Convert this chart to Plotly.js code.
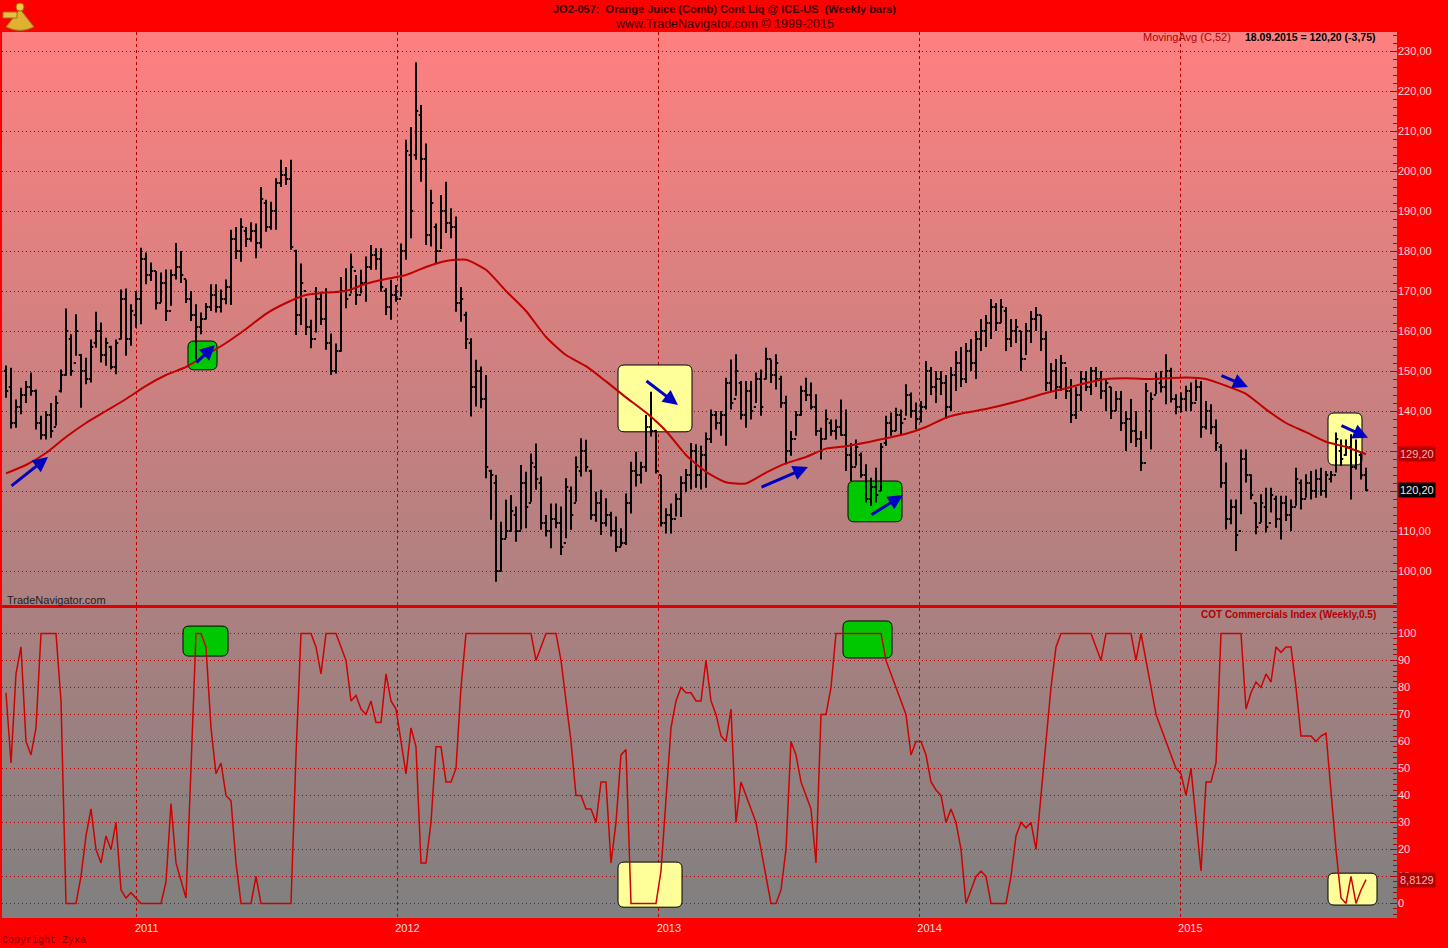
<!DOCTYPE html>
<html>
<head>
<meta charset="utf-8">
<script src="https://cdn.plot.ly/plotly-3.0.1.min.js"></script>
<style>
html,body{margin:0;padding:0;background:#ff0000;}
#chart{width:1448px;height:948px;}
</style>
</head>
<body>
<div id="chart"></div>
<script>
// ---------------- DATA (weekly bars, first bar week of 2010-07-02, last 2015-09-18) ----------------
const firstWeek = '2010-07-02';
const yearLabels = ['2011','2012','2013','2014','2015'];

const high = [
151.4,150.8,142.9,145.8,147.5,149.6,145.4,138.8,140,142,
143.8,150.4,165.6,159.2,164.2,154.2,153.3,157.9,164.8,162.1,
158.3,156.3,157.9,170.4,170.6,166.7,170,180.8,179.6,177.1,
175,174.6,175.4,175.4,182,180,172.9,170,166.7,164.6,
167,171.7,171.7,170.4,172.9,185.3,186,188.2,186,187.2,
186.9,196,192.8,192.3,198.2,202.8,201,202.8,180.3,176.9,
168.2,162.8,171,169.8,170.7,159.4,156.9,173.5,175.7,179.4,
174,175.3,178.6,181.5,180.7,180.7,170.7,172.8,171.5,181.9,
207.8,211,227.2,216.5,206.9,195.3,186.9,194,197.3,190.7,
188.6,171,164.8,158.2,152.8,151.1,149,125.3,124,112.3,
117.8,119,116.1,126.5,124.8,129.4,131.9,123.6,114,116.9,
116.9,116.1,123.2,121.1,128.6,133.2,132.8,125.3,119.8,120.3,
118.2,114.8,113.6,110.7,119.4,127.3,129.8,127.3,139,144.8,
135.3,124,115.7,116.9,119.4,123.7,125.5,132,131.7,131.3,
134.6,140.4,140,140,148.3,152.9,154.2,147.5,147.5,147.5,
149.6,150.4,155.8,152.9,154.2,148.8,143.8,135,140,146.3,
148.3,147.1,144.2,135.8,140.4,137.9,137.9,142.9,140.4,132,
132.9,129.6,126.7,123.3,125.8,132,138.8,139.6,140.8,140.4,
146.7,144.6,142.1,142.5,152.5,151,150,150,149,151,
155,156,157,158,160,163,164,168,167,168,
166,163,163,160,162,165,166,164,160,152,
153,154,151,148,146,150,150,151,151,150,
148,146,145,145,140,143,140,135,147,144.6,
149.6,150,154.2,150.8,144.2,144.6,146.3,147.1,147.9,147.5,
142.5,141.7,137.9,131.7,127.1,117.9,117.9,130.4,130.4,124.2,
117.1,119.2,120.8,120.8,118.8,118.8,118.8,117.9,125.8,122.9,
124.2,125,125.4,125.8,125,125,134.6,132.9,132.9,134.2,
132.9,129.6,125.8];

const low = [
143.3,135.6,135.8,139.2,142,143.8,135.4,132.9,132.9,133.3,
136.3,144.6,148.8,148.8,153.8,140.8,146.7,147.1,155.8,152.1,
151.3,150.4,149.2,157.9,153.8,156.3,160.8,161.7,171.7,172.5,
165.4,167.1,162.5,166.3,172.9,172,167,162.5,152.9,159.2,
162.9,165,164.6,164.6,166.7,166.5,178,177.3,181,182.3,
178.2,180.7,184.8,185.3,185.3,196,196.5,180.3,159,161.5,
159,155.7,159.6,161.5,155.3,149,149.4,154.8,165.7,169.4,
166.5,169.4,167.3,175.3,175.3,169.8,164,162.8,167.3,168.6,
177.8,183.2,202.8,197.3,181.5,181.1,176.9,180.5,184.5,183.2,
164.8,162.3,155.5,138.6,141.1,140.7,123.2,112.8,97.3,99.8,
108.2,109.8,107.3,110.3,110.7,117.3,120.3,110.3,108.6,105.7,
110.7,104,108.2,110.3,117.3,123.6,124.8,112.8,112.3,109,
111.1,108.6,104.8,106.1,106.5,114.4,121.1,121.9,124.8,133.6,
124.4,111.1,109.4,109.4,113.6,113.5,119.7,120.4,120.8,120.4,
120.8,132,135.4,133.8,131.3,140.4,143.8,137.9,135.8,137.9,
142,138.8,147.9,147,145.4,140.8,126.7,128.8,133.8,138.8,
142.5,140.4,133.8,127.9,132.9,133.8,132.9,133.8,125,122.5,
126.3,123.3,117.1,116.3,117.1,120,131.3,133.8,135,134.2,
138.8,138.3,135.4,137.1,140.4,144,142,144,138,140,
145,146,147,150,148,155,156,158,160,162,
155,156,157,150,154,157,160,155,145,145,
143,145,143,137,138,140,145,144,146,143,
140,138,140,135,130,132,131,125,133,130.4,
144.2,144.6,141.7,142.1,139.2,139.6,140,140,142.5,133.3,
135.4,134.2,130,120.8,110.4,111.7,105,114.2,122.1,117.9,
109.2,112.1,109.6,114.6,110.8,107.9,112.5,110,116.3,115.4,
118.3,117.9,118.3,118.8,118.3,122.1,124.6,126.3,128.8,117.9,
125.4,122.9,120];

const open = [
150,146,137,141,144,146,145,137,134,139,
136,145,149,158,152,154,150,148,157,160,
154,156,151,158,168,158,164,168,178,174,
175,167,172,165,174,176,173,168,164,161,
163,166,169,166,168,171,183,180,185,183,
185,182,192,186,190,197,199,198,180,164,
170,161,158,168,163,157,150,155,170,169,
175,169,172,176,179,178,170,166,169,168,
180,204,204,214,203,184,186,180,190,187,
186,167,164,157,146,150,143,125,122,100,
108,110,114,110,122,117,126,122,112,110,
113,112,107,120,117,125,130,125,114,117,
112,114,110,106,107,117,125,124,126,136,
135,124,112,114,113,118,122,124,130,124,
129,133,139,137,139,147,143,147,139,145,
141,148,148,153,149,148,142,130,133,139,
145,144,141,135,133,137,135,136,134,129,
126,129,124,118,121,120,132,137,135,139,
138,144,140,138,141,150,146,148,147,141,
149,152,148,155,152,158,160,162,166,162,
165,158,160,160,153,160,163,164,158,147,
150,146,152,145,139,144,148,146,150,148,
145,146,140,143,137,138,135,133,127,140,
144,147,146,150,143,141,143,145,142,146,
136,140,136,131,122,113,116,110,128,124,
117,112,116,112,118,113,117,114,116,122,
118,122,120,123,120,123,124,130,129,131,
126,129,124];

const close = [
145,137,141,144,146,145,137,134,139,135,
142,149,160,150,160,150,148,156,160,154,
157,151,157,168,158,165,168,178,174,175,
167,172,165,174,176,174,168,164,161,163,
166,169,166,168,171,183,180,186,183,185,
182,193,186,190,197,199,198,181,164,172,
161,158,168,163,157,150,155,170,168,176,
169,172,176,179,178,171,166,169,168,180,
205,190,215,203,184,192,180,190,187,186,
167,168,158,146,150,143,126,124,100,108,
110,115,110,122,116,127,123,112,110,113,
112,106,121,114,126,130,126,114,117,112,
114,110,106,107,117,125,124,126,136,135,
125,112,114,113,118,122,124,130,124,129,
133,139,137,139,147,142,150,139,145,140,
148,141,153,149,152,142,130,133,139,145,
144,141,135,133,138,135,136,134,129,126,
131,124,118,121,119,131,137,135,139,137,
144,140,138,141,150,146,148,147,141,149,
152,148,155,152,158,160,162,166,162,166,
158,160,161,153,160,163,164,158,147,150,
146,152,145,139,144,148,146,150,148,145,
147,140,143,137,138,135,133,127,145,143,
148,146,150,143,141,143,145,142,146,136,
140,136,132,122,113,116,109,128,124,119,
111,117,111,119,113,117,114,116,123,118,
122,120,123,120,124,124,133,128,131,126,
130,123.95,120.2];

// 52-week moving average of the close, read every 4th week
const maStep = 4;
const maVal = [
124.4,126.5,129.5,133.5,137,140,143,146.3,149,151,
154,157,160.5,164.3,167,169,169.6,170,171.8,173,
174,176,177.5,177.8,175.3,170,165,158.5,154,151.2,
147.4,143.4,139.6,135,129,124.8,122.2,121.9,124.6,126.9,
128.5,130.6,131.2,132.1,133.2,134.3,136,138.3,139.6,140.5,
141.7,143,144.5,145.7,147,148,148.2,148,148.2,148.4,
148,146.3,144.3,140.4,137,134.7,132.3,131,129.2];

// COT Commercials Index (Weekly, 0.5)
const cot = [
78,52,85,95,60,55,65,100,100,100,
100,75,0,0,0,10,25,35,20,15,
25,20,30,5,2,4,2,0,0,0,
0,0,8,37,15,8,2,50,100,100,
95,65,48,52,40,38,15,0,0,0,
10,0,0,0,0,0,0,0,55,100,
100,100,95,85,100,100,100,95,90,75,
77,72,70,75,67,67,85,75,72,60,
48,65,58,15,15,30,58,58,45,45,
50,80,100,100,100,100,100,100,100,100,
100,100,100,100,100,100,90,95,100,100,
100,90,75,60,40,40,35,35,30,45,
45,15,30,55,57,0,0,0,0,0,
0,12,40,65,75,80,78,78,75,75,
90,75,70,62,60,72,30,45,40,35,
30,20,10,0,0,5,20,60,55,45,
40,35,15,70,70,80,100,100,100,100,
100,100,100,100,100,100,90,85,80,75,
70,55,60,60,55,45,42,40,30,35,
30,20,0,5,10,12,10,0,0,0,
0,10,25,30,28,30,20,40,60,80,
95,100,100,100,100,100,100,100,95,90,
100,100,100,100,100,100,90,100,90,80,
70,65,60,55,50,48,40,50,30,12,
45,45,52,100,100,100,100,100,72,78,
82,80,85,82,95,93,95,95,80,62,
62,62,60,62,63,40,20,2,0,10,
0,5,8.8129];

// ---------------- highlight boxes / arrows (week index, value) ----------------
const boxes = [
 {w0:36.4,w1:42.2,v0:150.3,v1:157.5,ax:'y',fill:'#00c800'},
 {w0:122.4,w1:137.2,v0:134.8,v1:151.5,ax:'y',fill:'#ffff99'},
 {w0:168.4,w1:179.2,v0:112.3,v1:122.5,ax:'y',fill:'#00c800'},
 {w0:264.4,w1:271.2,v0:126.5,v1:139.5,ax:'y',fill:'#ffff99'},
 {w0:35.4,w1:44.4,v0:91.6,v1:102.7,ax:'y2',fill:'#00c800'},
 {w0:167.4,w1:177.2,v0:90.9,v1:104.6,ax:'y2',fill:'#00c800'},
 {w0:122.4,w1:135.2,v0:-1.4,v1:15.3,ax:'y2',fill:'#ffff99'},
 {w0:264.4,w1:274.2,v0:-0.6,v1:11.2,ax:'y2',fill:'#ffff99'}
];
const arrows = [
 {w0:0.8,v0:121,w1:8.4,v1:128.5},
 {w0:37.8,v0:151.8,w1:41.8,v1:156.5},
 {w0:127.8,v0:147.8,w1:134.4,v1:141.5},
 {w0:150.8,v0:120.8,w1:160.4,v1:126},
 {w0:172.8,v0:113.8,w1:179.4,v1:119},
 {w0:242.8,v0:149,w1:248.4,v1:146},
 {w0:266.8,v0:136.5,w1:272.4,v1:133.3}
];

// ---------------- build ----------------
const idx = high.map((_, i) => i);
const maIdx = maVal.map((_, k) => k * maStep);
const t0 = new Date(firstWeek + 'T00:00:00Z').getTime();
const WEEK = 7 * 24 * 3600 * 1000;
const yearPos = yearLabels.map(y => (new Date(y + '-01-01T00:00:00Z').getTime() - t0) / WEEK);

const FONT = 'Liberation Sans, Arial, sans-serif';
const DR = '#b80000';

// plot area in pixels: x 2..1397, y 32..918
const L = 2, T = 32, W = 1395, H = 886;
const px = x => (x - L) / W;
const py = y => (T + H - y) / H;

const traces = [
 {type:'ohlc', x:idx, open:open, high:high, low:low, close:close,
  xaxis:'x', yaxis:'y', tickwidth:0.45, hoverinfo:'skip',
  increasing:{line:{color:'#000000', width:2}},
  decreasing:{line:{color:'#000000', width:2}}},
 {type:'scatter', mode:'lines', x:maIdx, y:maVal, xaxis:'x', yaxis:'y',
  line:{color:'#c00000', width:2, shape:'spline', smoothing:0.6}, hoverinfo:'skip'},
 {type:'scatter', mode:'lines', x:idx, y:cot, xaxis:'x', yaxis:'y2',
  line:{color:'#d00000', width:1.5}, hoverinfo:'skip'}
];

function rbox(b){
  const yr = b.ax === 'y' ? 1.5 : 2.2;
  const xr = 1.2;
  const {w0,w1,v0,v1} = b;
  const p = `M${w0+xr},${v0} L${w1-xr},${v0} Q${w1},${v0} ${w1},${v0+yr} L${w1},${v1-yr} Q${w1},${v1} ${w1-xr},${v1} L${w0+xr},${v1} Q${w0},${v1} ${w0},${v1-yr} L${w0},${v0+yr} Q${w0},${v0} ${w0+xr},${v0} Z`;
  return {type:'path', path:p, xref:'x', yref:b.ax, fillcolor:b.fill,
          line:{color:'#000000', width:1}, layer:'between'};
}
const shapes = boxes.map(rbox);
// panel separator
shapes.push({type:'line', xref:'paper', yref:'paper', x0:-0.002, x1:1, y0:py(606.5), y1:py(606.5),
             line:{color:'#e00000', width:3}, layer:'above'});
// small golden sextant-like logo (top-left, outside the plot)
shapes.push({type:'path', xref:'paper', yref:'paper', layer:'above',
  path:`M${px(20)},${py(9)} L${px(34)},${py(27)} Q${px(20)},${py(34)} ${px(6)},${py(27)} Z`,
  fillcolor:'#e0b030', line:{color:'#a07010', width:1}});
shapes.push({type:'rect', xref:'paper', yref:'paper', layer:'above',
  x0:px(3), x1:px(17), y0:py(18), y1:py(12), fillcolor:'#e8c040', line:{color:'#a07010', width:1}});
shapes.push({type:'circle', xref:'paper', yref:'paper', layer:'above',
  x0:px(16), x1:px(24), y0:py(11), y1:py(3), fillcolor:'#f0c840', line:{color:'#a07010', width:1}});

const annotations = [];
arrows.forEach(a => annotations.push({
  x:a.w1, y:a.v1, ax:a.w0, ay:a.v0, xref:'x', yref:'y', axref:'x', ayref:'y',
  showarrow:true, arrowhead:2, arrowsize:1, arrowwidth:3, arrowcolor:'#0000c0', text:''
}));
annotations.push(
 {xref:'paper', yref:'paper', x:px(724), y:py(9), text:'<b>JO2-057:  Orange Juice (Comb) Cont Liq @ ICE-US  (Weekly bars)</b>',
  showarrow:false, font:{family:FONT, size:11, color:'#3a0000'}, xanchor:'center', yanchor:'middle'},
 {xref:'paper', yref:'paper', x:px(724), y:py(24), text:'www.TradeNavigator.com © 1999-2015',
  showarrow:false, font:{family:FONT, size:12.5, color:'#3a0000'}, xanchor:'center', yanchor:'middle'},
 {xref:'paper', yref:'paper', x:px(1233), y:py(37), text:'MovingAvg (C,52)',
  showarrow:false, font:{family:FONT, size:11, color:'#b00000'}, xanchor:'right', yanchor:'middle'},
 {xref:'paper', yref:'paper', x:px(1243), y:py(37), text:'<b>18.09.2015 = 120,20 (-3,75)</b>',
  showarrow:false, font:{family:FONT, size:10.5, color:'#000000'}, xanchor:'left', yanchor:'middle'},
 {xref:'paper', yref:'paper', x:px(5), y:py(600), text:'TradeNavigator.com',
  showarrow:false, font:{family:FONT, size:11, color:'#202020'}, xanchor:'left', yanchor:'middle'},
 {xref:'paper', yref:'paper', x:px(1378), y:py(614), text:'<b>COT Commercials Index (Weekly,0.5)</b>',
  showarrow:false, font:{family:FONT, size:10, color:'#b00000'}, xanchor:'right', yanchor:'middle'},
 {xref:'paper', yref:'paper', x:px(0), y:py(940), text:'Copyright Zyxa',
  showarrow:false, font:{family:'Liberation Mono, DejaVu Sans Mono, monospace', size:10, color:'#800000'}, xanchor:'left', yanchor:'middle'},
 {xref:'paper', yref:'y', x:px(1398), y:maVal[maVal.length-1], text:'129,20',
  showarrow:false, bgcolor:'#b00000', borderpad:1, font:{family:FONT, size:11, color:'#ffb0b0'}, xanchor:'left', yanchor:'middle'},
 {xref:'paper', yref:'y', x:px(1398), y:close[close.length-1], text:'120,20',
  showarrow:false, bgcolor:'#000000', borderpad:1, font:{family:FONT, size:11, color:'#ffe0e0'}, xanchor:'left', yanchor:'middle'},
 {xref:'paper', yref:'y2', x:px(1398), y:cot[cot.length-1], text:'8,8129',
  showarrow:false, bgcolor:'#b00000', borderpad:1, font:{family:FONT, size:11, color:'#ffb0b0'}, xanchor:'left', yanchor:'middle'}
);

// gradient background for the plot area
const svg = '<svg xmlns="http://www.w3.org/2000/svg" width="100" height="100" preserveAspectRatio="none">' +
  '<defs><linearGradient id="g" x1="0" y1="0" x2="0" y2="1">' +
  '<stop offset="0" stop-color="#ff8080"/><stop offset="1" stop-color="#808080"/></linearGradient></defs>' +
  '<rect width="100" height="100" fill="url(#g)"/></svg>';
const bgImg = 'data:image/svg+xml;base64,' + btoa(svg);

const yTickCommon = {
  side:'right', ticks:'inside', ticklen:7, tickcolor:DR, tickwidth:1,
  showgrid:true, gridcolor:DR, griddash:'1px,3px', gridwidth:1,
  zeroline:false, showline:false,
  tickfont:{family:FONT, size:11, color:'#ffdede'},
  minor:{ticks:'inside', ticklen:4, tickcolor:DR, dtick:2, showgrid:false},
  fixedrange:true
};

const layout = {
  width:1448, height:948,
  margin:{l:L, r:1448-(L+W), t:T, b:948-(T+H), pad:0},
  paper_bgcolor:'#ff0000', plot_bgcolor:'rgba(0,0,0,0)',
  separators:',.',
  showlegend:false,
  xaxis:{
    range:[-0.8, 278.2], anchor:'y2', tickmode:'array', tickvals:yearPos, ticktext:yearLabels,
    ticks:'', showgrid:true, gridcolor:DR, griddash:'3px,3px', gridwidth:1,
    zeroline:false, showline:false, ticklabelshift:10, ticklabelstandoff:2,
    tickfont:{family:'Liberation Sans Narrow, Arial Narrow, ' + FONT, size:11, color:'#ffdede'},
    rangeslider:{visible:false}, fixedrange:true
  },
  yaxis:Object.assign({}, yTickCommon, {
    domain:[py(606), 1], range:[91.25, 234.75], tickmode:'linear', tick0:0, dtick:10, tickformat:'.2f'
  }),
  yaxis2:Object.assign({}, yTickCommon, {
    domain:[0, py(608)], range:[-5.4, 109.4], tickmode:'linear', tick0:0, dtick:10, tickformat:'d'
  }),
  shapes:shapes,
  annotations:annotations,
  images:[{source:bgImg, xref:'paper', yref:'paper', x:0, y:1, sizex:1, sizey:1,
           sizing:'stretch', xanchor:'left', yanchor:'top', layer:'below'}]
};

Plotly.newPlot('chart', traces, layout, {displayModeBar:false, staticPlot:true});
</script>
</body>
</html>
